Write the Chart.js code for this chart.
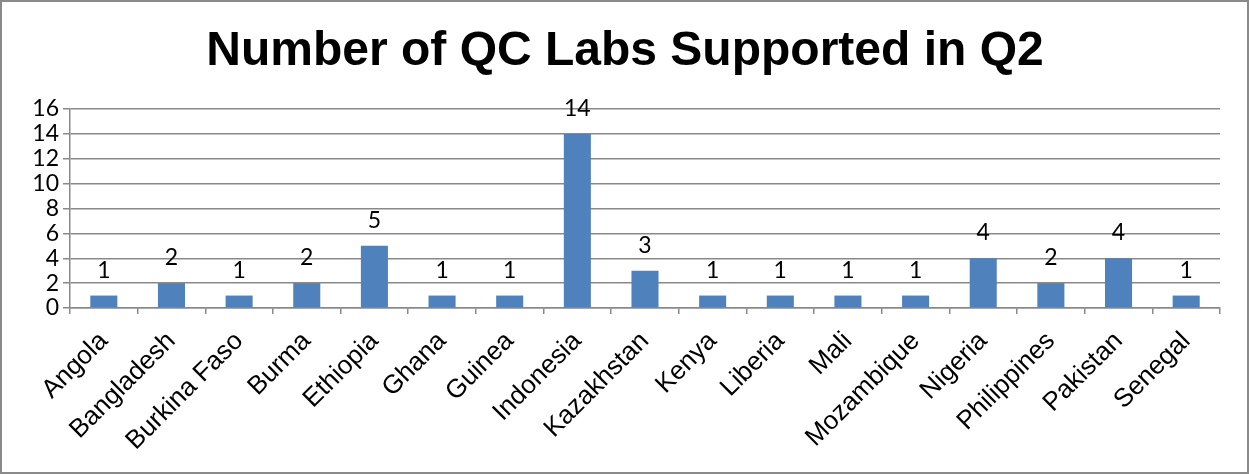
<!DOCTYPE html>
<html>
<head>
<meta charset="utf-8">
<script src="https://cdn.jsdelivr.net/npm/chart.js@4.4.1/dist/chart.umd.min.js"></script>
<style>
  html, body { margin: 0; padding: 0; background: #fff; }
  #wrap { position: relative; width: 1249px; height: 474px; box-sizing: border-box; border: 2px solid #8a8a8a; }
  canvas { display: block; }
</style>
</head>
<body>
<div id="wrap"><canvas id="chart" width="1245" height="470"></canvas></div>
<script>
// Data
const chartTitle = "Number of QC Labs Supported in Q2";
const countries = ["Angola", "Bangladesh", "Burkina Faso", "Burma", "Ethiopia", "Ghana", "Guinea",
  "Indonesia", "Kazakhstan", "Kenya", "Liberia", "Mali", "Mozambique", "Nigeria",
  "Philippines", "Pakistan", "Senegal"];
const labsSupported = [1, 2, 1, 2, 5, 1, 1, 14, 3, 1, 1, 1, 1, 4, 2, 4, 1];
const yTicks = [0, 2, 4, 6, 8, 10, 12, 14, 16];

const gridColor = "#898989";

// title, centred on the page like the original
const titlePlugin = {
  id: "titleText",
  afterDraw(chart) {
    const ctx = chart.ctx;
    ctx.save();
    ctx.fillStyle = "#000";
    ctx.font = "bold 48px 'Liberation Sans'";
    ctx.textAlign = "center";
    ctx.textBaseline = "alphabetic";
    ctx.fillText(chartTitle, 623, 63);
    ctx.restore();
  }
};

// draw value labels over each bar
const valueLabels = {
  id: "valueLabels",
  afterDatasetsDraw(chart) {
    const ctx = chart.ctx;
    const meta = chart.getDatasetMeta(0);
    ctx.save();
    ctx.fillStyle = "#000";
    ctx.font = "23px Lato";
    ctx.textAlign = "center";
    ctx.textBaseline = "alphabetic";
    meta.data.forEach((bar, i) => {
      ctx.fillText(String(labsSupported[i]), bar.x, bar.y - 18);
    });
    ctx.restore();
  }
};

const ctx = document.getElementById("chart");
new Chart(ctx, {
  type: "bar",
  data: {
    labels: countries,
    datasets: [{
      data: labsSupported,
      backgroundColor: "#4F81BD",
      borderWidth: 0,
      categoryPercentage: 1,
      barPercentage: 0.4
    }]
  },
  options: {
    responsive: false,
    animation: false,
    layout: { padding: { left: 0, right: 27, bottom: 0, top: 107 } },
    plugins: {
      legend: { display: false },
      tooltip: { enabled: false },
      title: { display: false }
    },
    scales: {
      x: {
        offset: true,
        grid: { display: true, drawOnChartArea: false, drawTicks: true, tickLength: 6, color: gridColor, lineWidth: 1.5, offset: true },
        border: { color: gridColor, width: 1.5 },
        ticks: {
          color: "#000",
          font: { family: "Liberation Sans", size: 26 },
          minRotation: 45,
          maxRotation: 45,
          autoSkip: false,
          padding: 12
        },
        afterFit(scale) { scale.height = 470 - 306; }
      },
      y: {
        min: 0,
        max: 16,
        afterBuildTicks(scale) { scale.ticks = yTicks.map(v => ({ value: v })); },
        grid: { color: gridColor, lineWidth: 1.5, tickLength: 7 },
        border: { color: gridColor, width: 1.5 },
        ticks: {
          color: "#000",
          font: { family: "Lato", size: 23 },
          autoSkip: false,
          padding: 4
        },
        afterFit(scale) { scale.width = 68; }
      }
    }
  },
  plugins: [valueLabels, titlePlugin]
});
</script>
</body>
</html>
